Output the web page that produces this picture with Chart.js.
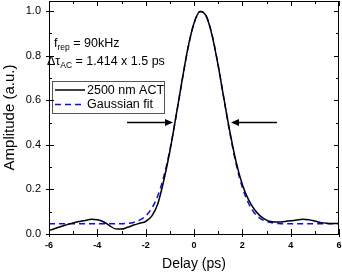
<!DOCTYPE html>
<html lang="en">
<head>
    <meta charset="UTF-8">
    <title>2500 nm ACT autocorrelation</title>
    <style>
        body {
            margin: 0;
            background: #ffffff;
        }
        #wrap {
            width: 342px;
            height: 273px;
        }
    </style>
    <script src="https://cdn.jsdelivr.net/npm/chart.js"></script>
</head>
<body>
    <div id="wrap"><canvas id="acChart" width="342" height="273"></canvas></div>
    <script>
        // delay axis (ps) and the two traces
        const delays = [-6, -5.75, -5.5, -5.25, -5, -4.75, -4.5, -4.25, -4, -3.75,
            -3.5, -3.25, -3, -2.75, -2.5, -2.25, -2, -1.75, -1.5, -1.25,
            -1, -0.75, -0.5, -0.25, 0, 0.25, 0.5, 0.75, 1, 1.25,
            1.5, 1.75, 2, 2.25, 2.5, 2.75, 3, 3.25, 3.5, 3.75,
            4, 4.25, 4.5, 4.75, 5, 5.25, 5.5, 5.75, 6];
        const actAmp = [0.016, 0.025, 0.034, 0.042, 0.050, 0.056, 0.061, 0.066, 0.064, 0.055,
            0.038, 0.023, 0.022, 0.030, 0.040, 0.048, 0.056, 0.080, 0.135, 0.240,
            0.370, 0.525, 0.685, 0.835, 0.945, 0.998, 0.978, 0.890, 0.755, 0.600,
            0.450, 0.320, 0.222, 0.155, 0.110, 0.080, 0.062, 0.055, 0.054, 0.056,
            0.059, 0.063, 0.066, 0.064, 0.058, 0.051, 0.048, 0.047, 0.047];
        const fitAmp = [0.046, 0.046, 0.046, 0.046, 0.046, 0.046, 0.046, 0.046, 0.046, 0.046,
            0.046, 0.046, 0.046, 0.048, 0.052, 0.062, 0.081, 0.115, 0.171, 0.258,
            0.376, 0.522, 0.682, 0.832, 0.945, 0.998, 0.979, 0.892, 0.757, 0.599,
            0.443, 0.310, 0.209, 0.139, 0.094, 0.069, 0.056, 0.050, 0.047, 0.046,
            0.046, 0.046, 0.046, 0.046, 0.046, 0.046, 0.046, 0.046, 0.046];
        const xTicks = [-6, -4, -2, 0, 2, 4, 6];
        const yTicks = [0, 0.2, 0.4, 0.6, 0.8, 1.0];
        const seriesNames = ['2500 nm ACT', 'Gaussian fit'];
        // half-maximum arrows: [tail x, tip x, y] in data units
        const arrows = [[-2.77, -0.87, 0.5], [3.43, 1.53, 0.5]];

        const FONT = "'Liberation Sans', Arial, sans-serif";

        function pts(ys) {
            return delays.map((d, i) => ({ x: d, y: ys[i] }));
        }

        // inward ticks on all four sides + the closing box
        const frame = {
            id: 'frame',
            afterDraw(chart) {
                const ctx = chart.ctx, a = chart.chartArea;
                const xs = chart.scales.x, ys = chart.scales.y;
                ctx.save();
                ctx.strokeStyle = '#000';
                ctx.lineWidth = 1;
                ctx.strokeRect(a.left + 0.5, a.top + 0.5, a.right - a.left - 1, a.bottom - a.top);
                ctx.beginPath();
                for (let v = -6; v <= 6; v += 1) {
                    const px = Math.round(xs.getPixelForValue(v)) + 0.5;
                    const major = v % 2 === 0;
                    const len = major ? 5 : 3;
                    ctx.moveTo(px, a.bottom + (major ? 3 : 0));
                    ctx.lineTo(px, a.bottom - len);
                    ctx.moveTo(px, a.top);
                    ctx.lineTo(px, a.top + len);
                }
                for (let k = 0; k <= 10; k++) {
                    const py = Math.round(ys.getPixelForValue(k / 10)) + 0.5;
                    const major = k % 2 === 0;
                    const len = major ? 5 : 3;
                    ctx.moveTo(a.left - (major ? 3 : 0), py);
                    ctx.lineTo(a.left + len, py);
                    ctx.moveTo(a.right, py);
                    ctx.lineTo(a.right - len, py);
                }
                ctx.stroke();
                ctx.restore();
            }
        };

        // text block, legend box and the FWHM arrows
        const notes = {
            id: 'notes',
            afterDatasetsDraw(chart) {
                const ctx = chart.ctx, a = chart.chartArea;
                const xs = chart.scales.x, ys = chart.scales.y;
                ctx.save();
                ctx.fillStyle = '#000';
                ctx.textBaseline = 'alphabetic';

                function run(parts, x, y) {
                    parts.forEach(p => {
                        ctx.font = (p.sub ? '8.5px ' : '12.5px ') + FONT;
                        ctx.fillText(p.t, x, y + (p.sub ? 3 : 0));
                        x += ctx.measureText(p.t).width;
                    });
                }
                run([{ t: 'f' }, { t: 'rep', sub: true }, { t: ' = 90kHz' }], a.left + 5, a.top + 46);
                run([{ t: '\u0394\u03c4' }, { t: 'AC', sub: true }, { t: ' = 1.414 x 1.5 ps' }], a.left - 2, a.top + 64);

                // legend
                const lx = a.left + 3, ly = a.top + 80;
                ctx.strokeStyle = '#555';
                ctx.lineWidth = 1;
                ctx.strokeRect(lx + 0.5, ly + 0.5, 112, 32);
                chart.data.datasets.forEach((ds, i) => {
                    const yy = ly + 9 + i * 14.5;
                    ctx.strokeStyle = ds.borderColor;
                    ctx.lineWidth = ds.borderWidth;
                    ctx.setLineDash(ds.borderDash || []);
                    ctx.beginPath();
                    ctx.moveTo(lx + 3, yy);
                    ctx.lineTo(lx + 33, yy);
                    ctx.stroke();
                    ctx.setLineDash([]);
                    ctx.font = '12.5px ' + FONT;
                    ctx.textBaseline = 'middle';
                    ctx.fillText(ds.label, lx + 35, yy + 0.5);
                });

                // arrows
                ctx.strokeStyle = '#000';
                ctx.lineWidth = 1.5;
                arrows.forEach(([x0, x1, yv]) => {
                    const p0 = xs.getPixelForValue(x0), p1 = xs.getPixelForValue(x1);
                    const py = ys.getPixelForValue(yv);
                    const dir = Math.sign(p1 - p0);
                    ctx.beginPath();
                    ctx.moveTo(p0, py);
                    ctx.lineTo(p1 - dir * 6, py);
                    ctx.stroke();
                    ctx.beginPath();
                    ctx.moveTo(p1, py);
                    ctx.lineTo(p1 - dir * 8, py - 3.5);
                    ctx.lineTo(p1 - dir * 8, py + 3.5);
                    ctx.closePath();
                    ctx.fill();
                });
                ctx.restore();
            }
        };

        new Chart(document.getElementById('acChart'), {
            type: 'line',
            data: {
                datasets: [{
                    label: seriesNames[0],
                    data: pts(actAmp),
                    borderColor: '#000000',
                    borderWidth: 1.5,
                    pointRadius: 0,
                    cubicInterpolationMode: 'monotone',
                    fill: false
                }, {
                    label: seriesNames[1],
                    data: pts(fitAmp),
                    borderColor: '#0a0aff',
                    borderWidth: 1.5,
                    borderDash: [6, 4],
                    pointRadius: 0,
                    cubicInterpolationMode: 'monotone',
                    fill: false
                }]
            },
            options: {
                responsive: false,
                animation: false,
                layout: { padding: { top: 1, right: 3, left: 0, bottom: 0 } },
                plugins: {
                    legend: { display: false },
                    tooltip: { enabled: false }
                },
                scales: {
                    x: {
                        type: 'linear',
                        min: -6,
                        max: 6,
                        afterBuildTicks: s => { s.ticks = xTicks.map(v => ({ value: v })); },
                        afterFit: s => { s.height = 39; s.paddingLeft = 0; s.paddingRight = 0; },
                        grid: { display: false, drawTicks: false },
                        border: { display: false },
                        ticks: {
                            padding: 6,
                            color: '#000',
                            font: { family: FONT, size: 9, weight: 'bold' },
                            callback: v => v
                        },
                        title: {
                            display: true,
                            text: 'Delay (ps)',
                            color: '#000',
                            font: { family: FONT, size: 14 },
                            padding: { top: 0, bottom: 0 }
                        }
                    },
                    y: {
                        min: 0,
                        max: 1.045,
                        afterBuildTicks: s => { s.ticks = yTicks.map(v => ({ value: v })); },
                        afterFit: s => { s.width = 49; s.paddingTop = 0; s.paddingBottom = 0; },
                        grid: { display: false, drawTicks: false },
                        border: { display: false },
                        ticks: {
                            padding: 8,
                            color: '#000',
                            font: { family: FONT, size: 11 },
                            callback: v => v.toFixed(1)
                        },
                        title: {
                            display: true,
                            text: 'Amplitude (a.u.)',
                            color: '#000',
                            font: { family: FONT, size: 15 },
                            padding: { top: 1, bottom: 0 }
                        }
                    }
                }
            },
            plugins: [frame, notes]
        });
    </script>
</body>
</html>
